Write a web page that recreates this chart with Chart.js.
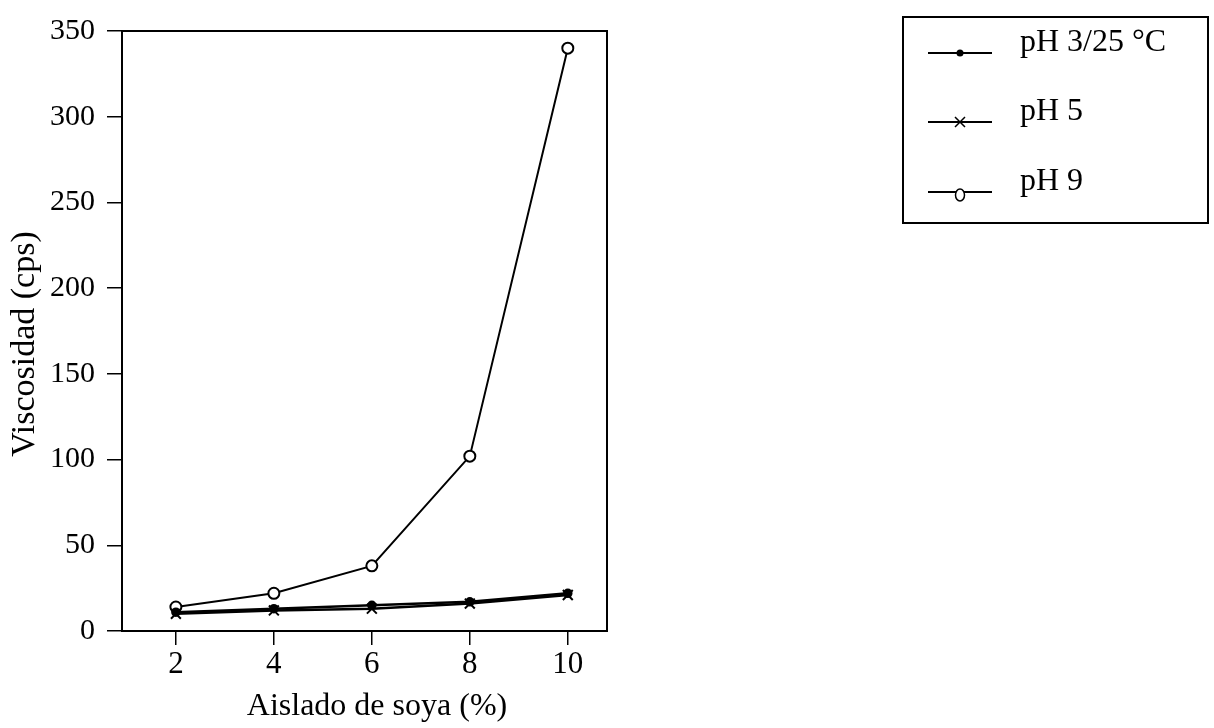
<!DOCTYPE html>
<html>
<head>
<meta charset="utf-8">
<script src="https://cdn.jsdelivr.net/npm/chart.js@4/dist/chart.umd.min.js"></script>
<style>
  html, body { margin: 0; padding: 0; background: #fff; }
  #wrap { width: 1214px; height: 728px; position: relative; }
</style>
</head>
<body>
<div id="wrap"><canvas id="c"></canvas></div>
<script>
// Soy isolate concentration (%) on the x axis
const isolate = [2, 4, 6, 8, 10];
const xTicks = [2, 4, 6, 8, 10];
const yTicks = [0, 50, 100, 150, 200, 250, 300, 350];

// Viscosity (cps) for each condition
const pH3_25C = [11, 13, 15, 17, 22];
const pH5 = [10, 12, 13, 16, 21];
const pH9 = [14, 22, 38, 102, 340];

const seriesNames = ['pH 3/25 °C', 'pH 5', 'pH 9'];
const xTitle = 'Aislado de soya (%)';
const yTitle = 'Viscosidad (cps)';

const FONT = '"Liberation Serif", "DejaVu Serif", serif';

function pts(ys) { return isolate.map((x, i) => ({ x: x, y: ys[i] })); }

// Frame around the plot area plus the two axis titles
const framePlugin = {
  id: 'frame',
  afterDatasetsDraw(chart) {
    const a = chart.chartArea, ctx = chart.ctx;
    ctx.save();
    ctx.strokeStyle = '#000';
    ctx.lineWidth = 2;
    ctx.strokeRect(a.left, a.top, a.right - a.left, a.bottom - a.top);

    ctx.fillStyle = '#000';
    ctx.textAlign = 'center';
    ctx.textBaseline = 'middle';
    ctx.font = '32px ' + FONT;
    ctx.fillText(xTitle, 377, 707);

    ctx.translate(25, 344);
    ctx.rotate(-Math.PI / 2);
    ctx.font = '34px ' + FONT;
    ctx.fillText(yTitle, 0, 0);
    ctx.restore();
  }
};

// Boxed legend with line + marker samples
const legendBox = {
  id: 'legendBox',
  afterDraw(chart) {
    const ctx = chart.ctx;
    ctx.save();
    ctx.strokeStyle = '#000';
    ctx.lineWidth = 2;
    ctx.strokeRect(903, 17, 305, 206);
    const rows = [53, 122, 192];
    chart.data.datasets.forEach((ds, i) => {
      const y = rows[i];
      ctx.beginPath();
      ctx.strokeStyle = '#000';
      ctx.lineWidth = 2;
      ctx.moveTo(928, y);
      ctx.lineTo(992, y);
      ctx.stroke();
      const mx = 960;
      if (ds.pointStyle === 'circle' && ds.pointBackgroundColor === '#000') {
        ctx.beginPath();
        ctx.arc(mx, y, 3.5, 0, Math.PI * 2);
        ctx.fillStyle = '#000';
        ctx.fill();
      } else if (ds.pointStyle === 'crossRot') {
        ctx.beginPath();
        ctx.lineWidth = 1.5;
        ctx.moveTo(mx - 5, y - 5); ctx.lineTo(mx + 5, y + 5);
        ctx.moveTo(mx + 5, y - 5); ctx.lineTo(mx - 5, y + 5);
        ctx.stroke();
      } else {
        ctx.beginPath();
        ctx.lineWidth = 1.5;
        ctx.ellipse(mx, y + 3, 4.5, 6, 0, 0, Math.PI * 2);
        ctx.fillStyle = '#fff';
        ctx.fill();
        ctx.stroke();
      }
      ctx.fillStyle = '#000';
      ctx.font = '32px ' + FONT;
      ctx.textBaseline = 'alphabetic';
      ctx.textAlign = 'left';
      ctx.fillText(ds.label, 1020, y - 2);
    });
    ctx.restore();
  }
};

new Chart(document.getElementById('c'), {
  type: 'line',
  data: {
    datasets: [
      {
        label: seriesNames[0], data: pts(pH3_25C),
        borderColor: '#000', borderWidth: 2.5,
        pointStyle: 'circle', pointRadius: 3.5,
        pointBackgroundColor: '#000', pointBorderColor: '#000'
      },
      {
        label: seriesNames[1], data: pts(pH5),
        borderColor: '#000', borderWidth: 2.5,
        pointStyle: 'crossRot', pointRadius: 7, pointBorderWidth: 2,
        pointBorderColor: '#000', pointBackgroundColor: '#000'
      },
      {
        label: seriesNames[2], data: pts(pH9),
        borderColor: '#000', borderWidth: 2,
        pointStyle: 'circle', pointRadius: 5.5, pointBorderWidth: 2,
        pointBorderColor: '#000', pointBackgroundColor: '#fff'
      }
    ]
  },
  options: {
    responsive: true,
    maintainAspectRatio: false,
    animation: false,
    layout: { padding: { left: 0, top: 31, right: 607, bottom: 0 } },
    plugins: { legend: { display: false }, tooltip: { enabled: false } },
    scales: {
      x: {
        type: 'linear', min: 0.9, max: 10.8,
        afterBuildTicks: s => { s.ticks = xTicks.map(v => ({ value: v })); },
        afterFit: s => { s.height = 97; },
        grid: { drawOnChartArea: false, tickLength: 14, color: '#000', lineWidth: 1.5 },
        border: { color: '#000', width: 2 },
        ticks: { color: '#000', font: { family: FONT, size: 31 }, padding: 1, maxRotation: 0 },
        title: { display: false }
      },
      y: {
        type: 'linear', min: 0, max: 350,
        afterBuildTicks: s => { s.ticks = yTicks.map(v => ({ value: v })); },
        afterFit: s => { s.width = 122; },
        grid: { drawOnChartArea: false, tickLength: 15, color: '#000', lineWidth: 1.5 },
        border: { color: '#000', width: 2 },
        ticks: { color: '#000', font: { family: FONT, size: 30 }, padding: 12 },
        title: { display: false }
      }
    }
  },
  plugins: [framePlugin, legendBox]
});
</script>
</body>
</html>
